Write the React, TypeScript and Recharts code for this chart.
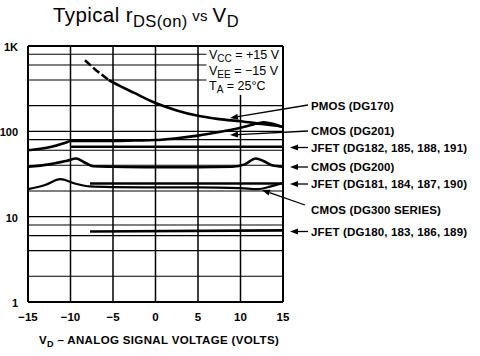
import React from "react"
import { LineChart, Line, XAxis, YAxis, ReferenceLine } from "recharts"

// volts on the x axis, ohms (log) on the y axis
const xTicks = [-15, -10, -5, 0, 5, 10, 15]
const yTicks = [1, 10, 100, 1000]
const gridFull = [2, 4, 6, 8, 10, 20, 40, 60, 80, 100, 200]
const gridShort = [400, 600, 800]
const gridV = [-10, -5, 0, 5]

const pmosDashed = [
  { x: -8.3, y: 680 },
  { x: -7, y: 520 },
  { x: -5.5, y: 400 },
]
const pmos = [
  { x: -5.5, y: 400 },
  { x: -5, y: 375 },
  { x: -2.5, y: 282 },
  { x: 0, y: 215 },
  { x: 2.5, y: 176 },
  { x: 5, y: 152 },
  { x: 7.5, y: 139 },
  { x: 10, y: 131 },
  { x: 12.5, y: 122 },
  { x: 15, y: 114 },
]
const cmos201 = [
  { x: -15, y: 60 },
  { x: -12.5, y: 65 },
  { x: -10.5, y: 74 },
  { x: -10, y: 77 },
  { x: -7.5, y: 77 },
  { x: -5, y: 77 },
  { x: -2.5, y: 78 },
  { x: 0, y: 79 },
  { x: 2.5, y: 83 },
  { x: 5, y: 89 },
  { x: 7.5, y: 98 },
  { x: 10, y: 110 },
  { x: 11.5, y: 120 },
  { x: 12.7, y: 128 },
  { x: 13.5, y: 124 },
  { x: 15, y: 112 },
]
const jfet182 = [
  { x: -10, y: 66 },
  { x: 15, y: 66 },
]
const cmos200 = [
  { x: -15, y: 38.5 },
  { x: -12.5, y: 41 },
  { x: -10.5, y: 45 },
  { x: -9.3, y: 48 },
  { x: -8.5, y: 44 },
  { x: -7.3, y: 39 },
  { x: -5, y: 38.5 },
  { x: 0, y: 38 },
  { x: 5, y: 38 },
  { x: 9, y: 38.5 },
  { x: 10.5, y: 41 },
  { x: 11.8, y: 48 },
  { x: 12.7, y: 45 },
  { x: 13.7, y: 40 },
  { x: 15, y: 38.5 },
]
const jfet181 = [
  { x: -7.7, y: 24.5 },
  { x: 15, y: 24.5 },
]
const cmos300 = [
  { x: -15, y: 21 },
  { x: -13, y: 23.5 },
  { x: -11.2, y: 27.5 },
  { x: -9.5, y: 24.5 },
  { x: -7.7, y: 22.6 },
  { x: -5, y: 22.2 },
  { x: 0, y: 22 },
  { x: 5, y: 22 },
  { x: 10, y: 21.6 },
  { x: 12, y: 21 },
  { x: 13.5, y: 22.5 },
  { x: 15, y: 24.7 },
]
const jfet180 = [
  { x: -7.7, y: 6.7 },
  { x: 15, y: 6.9 },
]

const labels = [
  { text: "PMOS (DG170)", y: 106, from: [308, 105], to: [230, 118] },
  { text: "CMOS (DG201)", y: 131, from: [308, 131], to: [230, 135] },
  { text: "JFET (DG182, 185, 188, 191)", y: 148, from: [308, 147.5], to: [290, 147.5] },
  { text: "CMOS (DG200)", y: 167, from: [308, 167], to: [290, 167] },
  { text: "JFET (DG181, 184, 187, 190)", y: 184, from: [308, 184], to: [290, 184] },
  { text: "CMOS (DG300 SERIES)", y: 210, from: [305, 205], to: [262, 190] },
  { text: "JFET (DG180, 183, 186, 189)", y: 232, from: [308, 231.5], to: [290, 231.5] },
]

const font = "'Liberation Sans', Arial, sans-serif"

const fmtX = (v: number) => (v < 0 ? "\u2212" + Math.abs(v) : String(v))
const fmtY = (v: number) => (v >= 1000 ? "1K" : String(v))

function Arrow({ from, to }: { from: number[]; to: number[] }) {
  const dx = to[0] - from[0]
  const dy = to[1] - from[1]
  const len = Math.sqrt(dx * dx + dy * dy)
  const ux = dx / len
  const uy = dy / len
  const bx = to[0] - ux * 8
  const by = to[1] - uy * 8
  const px = -uy * 3
  const py = ux * 3
  return (
    <g>
      <line x1={from[0]} y1={from[1]} x2={bx} y2={by} stroke="#000" strokeWidth={1.3} />
      <polygon
        points={`${to[0]},${to[1]} ${bx + px},${by + py} ${bx - px},${by - py}`}
        fill="#000"
      />
    </g>
  )
}

export default function App() {
  const curve = { stroke: "#000", strokeWidth: 2.6, dot: false, isAnimationActive: false, dataKey: "y" }
  return (
    <div style={{ position: "absolute", left: 0, top: 0, width: 480, height: 356, background: "#fff" }}>
      <LineChart width={480} height={356} margin={{ top: 46, right: 197, bottom: 24, left: 0 }}>
        <XAxis
          type="number"
          dataKey="x"
          domain={[-15, 15]}
          ticks={xTicks}
          tickFormatter={fmtX}
          allowDataOverflow
          tickLine={false}
          axisLine={{ stroke: "#000", strokeWidth: 2 }}
          tick={{ fill: "#000", fontSize: 11.5, fontWeight: 700, fontFamily: font }}
          tickMargin={5}
          height={30}
        />
        <YAxis
          type="number"
          scale="log"
          domain={[1, 1000]}
          ticks={yTicks}
          tickFormatter={fmtY}
          allowDataOverflow
          tickLine={false}
          axisLine={{ stroke: "#000", strokeWidth: 2 }}
          tick={{ fill: "#000", fontSize: 11, fontWeight: 700, fontFamily: font, dy: 1 }}
          tickMargin={4}
          width={28}
        />
        {gridFull.map((v) => (
          <ReferenceLine key={"h" + v} y={v} stroke="#000" strokeWidth={1.1} />
        ))}
        {gridShort.map((v) => (
          <ReferenceLine
            key={"s" + v}
            segment={[{ x: -15, y: v }, { x: 6, y: v }]}
            stroke="#000"
            strokeWidth={1.1}
          />
        ))}
        {gridV.map((v) => (
          <ReferenceLine key={"v" + v} x={v} stroke="#000" strokeWidth={1.5} />
        ))}
        <ReferenceLine segment={[{ x: 10, y: 1 }, { x: 10, y: 267 }]} stroke="#000" strokeWidth={1.5} />
        <ReferenceLine y={1000} stroke="#000" strokeWidth={2} />
        <ReferenceLine x={15} stroke="#000" strokeWidth={2} />

        <Line {...curve} data={pmosDashed} type="linear" strokeDasharray="8 3" />
        <Line {...curve} data={pmos} type="monotone" />
        <Line {...curve} data={cmos201} type="monotone" />
        <Line {...curve} data={jfet182} type="linear" />
        <Line {...curve} data={cmos200} type="monotone" />
        <Line {...curve} data={jfet181} type="linear" />
        <Line {...curve} data={cmos300} type="monotone" strokeWidth={2.2} />
        <Line {...curve} data={jfet180} type="linear" />
      </LineChart>

      <svg
        width={480}
        height={356}
        style={{ position: "absolute", left: 0, top: 0, pointerEvents: "none" }}
      >
        <text x={53} y={22} fontFamily={font} fontSize={20.5} fill="#000" letterSpacing={0.4}>
          Typical r
          <tspan fontSize={16.5} dy={5}>DS(on)</tspan>
          <tspan fontSize={15} dy={-6}> vs </tspan>
          <tspan fontSize={20.5} dy={1}>V</tspan>
          <tspan fontSize={16.5} dy={5}>D</tspan>
        </text>

        <g fontFamily={font} fontSize={12.5} fill="#000">
          <text x={209} y={59}>
            V<tspan fontSize={10} dy={3}>CC</tspan>
            <tspan dy={-3}> = +15 V</tspan>
          </text>
          <text x={209} y={75}>
            V<tspan fontSize={10} dy={3}>EE</tspan>
            <tspan dy={-3}> = {"\u2212"}15 V</tspan>
          </text>
          <text x={209} y={90}>
            T<tspan fontSize={10} dy={3}>A</tspan>
            <tspan dy={-3}> = 25°C</tspan>
          </text>
        </g>

        {labels.map((l) => (
          <g key={l.text}>
            <Arrow from={l.from} to={l.to} />
            <text
              x={311}
              y={l.y}
              dominantBaseline="central"
              fontFamily={font}
              fontSize={11.5}
              fontWeight={700}
              letterSpacing={0.15}
              fill="#000"
            >
              {l.text}
            </text>
          </g>
        ))}

        <text
          x={39}
          y={344}
          fontFamily={font}
          fontSize={11.5}
          fontWeight={700}
          letterSpacing={0.35}
          fill="#000"
        >
          V<tspan fontSize={9} dy={3}>D</tspan>
          <tspan dy={-3}> {"\u2013"} ANALOG SIGNAL VOLTAGE (VOLTS)</tspan>
        </text>
      </svg>
    </div>
  )
}
